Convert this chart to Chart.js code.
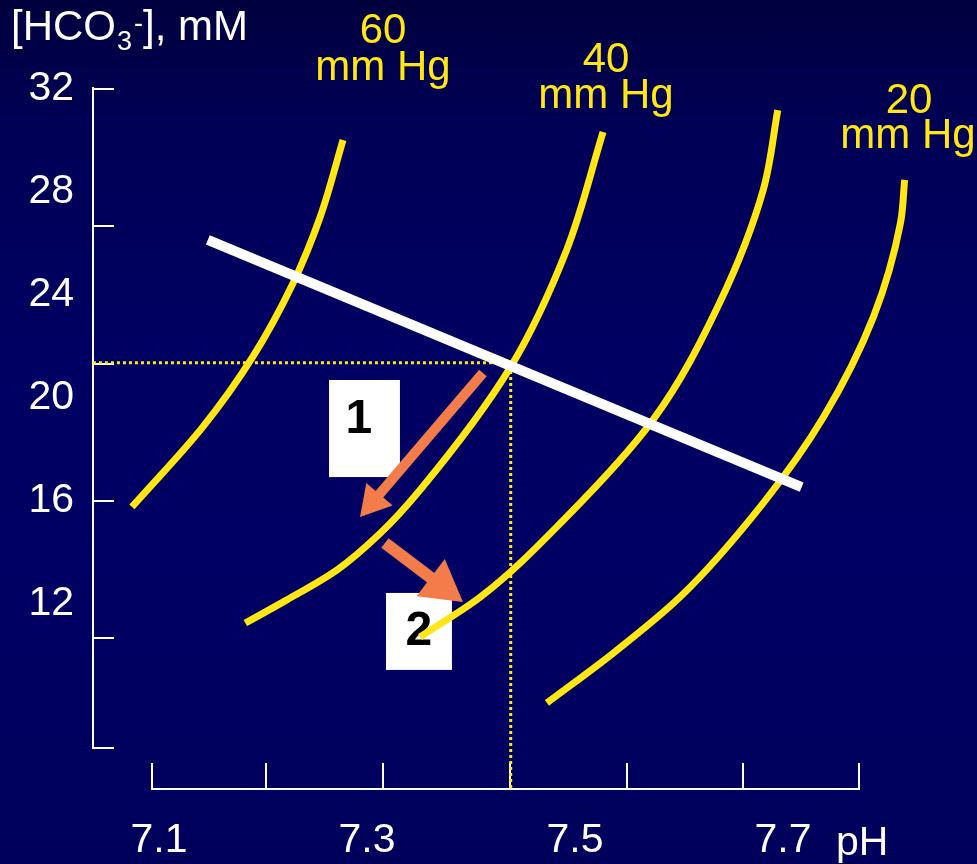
<!DOCTYPE html>
<html>
<head>
<meta charset="utf-8">
<title>pH - bicarbonate diagram</title>
<script src="https://cdn.jsdelivr.net/npm/chart.js@4.4.1/dist/chart.umd.min.js"></script>
<style>
  html, body { margin: 0; padding: 0; }
  body {
    width: 977px; height: 864px; overflow: hidden;
    background: linear-gradient(to bottom, #00003e 0%, #000056 15%, #000062 40%, #000064 65%, #00005c 100%);
  }
  canvas { display: block; }
</style>
</head>
<body>
<canvas id="myChart" width="977" height="864"></canvas>
<script>
// isobars (pH, [HCO3-] mM)
const ph60 = [7.074, 7.142, 7.190, 7.229, 7.255, 7.277];
const hco60 = [15.77, 18.87, 21.59, 24.47, 27.03, 30.02];

const ph40 = [7.183, 7.223, 7.271, 7.313, 7.351, 7.438, 7.492, 7.527];
const hco40 = [11.26, 12.16, 13.32, 14.76, 16.43, 21.2, 25.75, 30.33];

const ph30 = [7.351, 7.409, 7.489, 7.575, 7.639, 7.681, 7.695];
const hco30 = [10.72, 12.27, 15.26, 19.15, 23.69, 28.08, 31.18];

const ph20 = [7.473, 7.537, 7.601, 7.681, 7.739, 7.787, 7.813, 7.817];
const hco20 = [8.16, 10.1, 12.27, 15.92, 19.26, 23.15, 26.8, 28.47];

// buffer line
const bufferPH = [7.147, 7.718];
const bufferHCO = [26.14, 16.54];

// dotted guide to the 40 mm Hg point
const guidePH = [7.0365, 7.4382, 7.4382];
const guideHCO = [21.37, 21.37, 4.816];

// arrows: tail -> head
const arrow1PH = [7.4115, 7.3058];
const arrow1HCO = [20.97, 15.97];
const arrow2PH = [7.3173, 7.3716];
const arrow2HCO = [14.37, 12.71];

// axes
const phLabels = [7.1, 7.3, 7.5, 7.7];
const hcoLabels = [12, 16, 20, 24, 28, 32];
const phMarks = [7.0933, 7.2029, 7.3154, 7.4375, 7.55, 7.6615, 7.7731];
const hcoMarks = [32, 26.67, 21.33, 16, 10.67, 6.408];

const PH_MIN = 7.0933, PH_MAX = 7.7731;
const HCO_MIN = 6.408, HCO_MAX = 32.039;
const PH_AT_HCO_AXIS = 7.0365;
const HCO_AT_PH_AXIS = 4.816;

const YELLOW = '#ffe614';
const ORANGE = '#f47c4a';
const FONT = '"Liberation Sans", Arial, Helvetica, sans-serif';

Chart.defaults.font.family = FONT;

const pts = (xs, ys) => xs.map((v, i) => ({ x: v, y: ys[i] }));

// the isobars are steep, so interpolate them along the HCO3 axis
const isobar = (xs, ys) => ({
  data: pts(xs, ys),
  indexAxis: 'y',
  xAxisID: 'x',
  yAxisID: 'y',
  borderColor: YELLOW,
  borderWidth: 7,
  pointRadius: 0,
  cubicInterpolationMode: 'monotone',
  clip: false,
});

const shaft = (xs, ys, w) => ({
  data: pts(xs, ys),
  borderColor: ORANGE,
  borderWidth: w,
  borderCapStyle: 'butt',
  pointRadius: 0,
  clip: false,
});

const head = (xs, ys, r, rot) => ({
  data: [{ x: xs[1], y: ys[1] }],
  showLine: false,
  pointStyle: 'triangle',
  pointRadius: r,
  pointRotation: rot,
  pointBackgroundColor: ORANGE,
  pointBorderColor: ORANGE,
  pointBorderWidth: 0,
  clip: false,
});

const boxes = [
  { text: '1', ph: [7.2635, 7.3317], hco: [20.70, 16.93], tx: 7.2923, ty: 19.15 },
  { text: '2', ph: [7.3183, 7.3817], hco: [12.43, 9.44], tx: 7.35, ty: 10.91 },
];

const isobarLabels = [
  { text: '60', x: 383, y: 43 }, { text: 'mm Hg', x: 383, y: 80 },
  { text: '40', x: 606, y: 72 }, { text: 'mm Hg', x: 606, y: 108 },
  { text: '20', x: 909, y: 113 }, { text: 'mm Hg', x: 908, y: 148 },
];

// fixed range without user bounds, so lines running past the axes are not cut
const phRange = s => { s.min = PH_MIN; s.max = PH_MAX; };
const hcoRange = s => { s.min = HCO_MIN; s.max = HCO_MAX; };

const extras = {
  id: 'extras',
  beforeDatasetsDraw(chart) {
    const { ctx, scales: { x, y } } = chart;
    ctx.save();
    boxes.forEach(b => {
      const x0 = x.getPixelForValue(b.ph[0]), x1 = x.getPixelForValue(b.ph[1]);
      const y0 = y.getPixelForValue(b.hco[0]), y1 = y.getPixelForValue(b.hco[1]);
      ctx.fillStyle = '#ffffff';
      ctx.fillRect(x0, y0, x1 - x0, y1 - y0);
      ctx.fillStyle = '#000000';
      ctx.font = 'bold 48px ' + FONT;
      ctx.textAlign = 'center';
      ctx.textBaseline = 'middle';
      ctx.fillText(b.text, x.getPixelForValue(b.tx), y.getPixelForValue(b.ty));
    });
    ctx.restore();
  },
  afterDraw(chart) {
    const ctx = chart.ctx;
    ctx.save();
    ctx.textBaseline = 'alphabetic';
    ctx.textAlign = 'left';
    ctx.fillStyle = '#ffffff';
    ctx.font = '42px ' + FONT;
    ctx.fillText('[HCO', 11, 40);
    ctx.font = '27px ' + FONT;
    ctx.fillText('3', 117, 50);
    ctx.fillText('-', 134, 32);
    ctx.font = '42px ' + FONT;
    ctx.fillText('], mM', 143, 40);
    ctx.font = '41px ' + FONT;
    ctx.fillText('pH', 836, 855);

    ctx.fillStyle = YELLOW;
    ctx.textAlign = 'center';
    ctx.font = '42px ' + FONT;
    isobarLabels.forEach(l => ctx.fillText(l.text, l.x, l.y));
    ctx.restore();
  },
};

const markGrid = len => ({
  display: true,
  drawOnChartArea: false,
  drawTicks: true,
  tickLength: len,
  tickWidth: 2,
  lineWidth: 2,
  tickColor: '#ffffff',
  color: '#ffffff',
});

const config = {
  type: 'line',
  data: {
    datasets: [
      {
        data: pts(bufferPH, bufferHCO),
        borderColor: '#ffffff',
        borderWidth: 10,
        borderCapStyle: 'butt',
        pointRadius: 0,
        clip: false,
      },
      head(arrow1PH, arrow1HCO, 20, 220.5),
      shaft(arrow1PH, arrow1HCO, 10),
      head(arrow2PH, arrow2HCO, 27, 127.1),
      shaft(arrow2PH, arrow2HCO, 12),
      isobar(ph60, hco60),
      isobar(ph40, hco40),
      isobar(ph30, hco30),
      isobar(ph20, hco20),
      {
        data: pts(guidePH, guideHCO),
        borderColor: YELLOW,
        borderWidth: 3,
        borderDash: [3, 3],
        pointRadius: 0,
        tension: 0,
        clip: false,
      },
    ],
  },
  options: {
    responsive: false,
    animation: false,
    events: [],
    layout: { padding: { top: 88, right: 118, left: 0, bottom: 0 } },
    plugins: {
      legend: { display: false },
      tooltip: { enabled: false },
    },
    scales: {
      x: {
        type: 'linear',
        position: 'bottom',
        bounds: 'data',
        afterDataLimits: phRange,
        afterBuildTicks: s => { phRange(s); s.ticks = phLabels.map(v => ({ value: v })); },
        afterFit: s => { s.height = 116; s.paddingLeft = 0; s.paddingRight = 0; },
        grid: { display: false, drawTicks: false },
        border: { display: false },
        ticks: {
          color: '#ffffff',
          font: { size: 41 },
          padding: 68,
          maxRotation: 0,
          autoSkip: false,
          callback: v => v.toFixed(1),
        },
      },
      y: {
        type: 'linear',
        position: 'left',
        bounds: 'data',
        afterDataLimits: hcoRange,
        afterBuildTicks: s => { hcoRange(s); s.ticks = hcoLabels.map(v => ({ value: v })); },
        afterFit: s => { s.width = 152; s.paddingTop = 0; s.paddingBottom = 0; },
        grid: { display: false, drawTicks: false },
        border: { display: false },
        ticks: {
          color: '#ffffff',
          font: { size: 41 },
          padding: 78,
          autoSkip: false,
          callback: v => String(v),
        },
      },
      xt: {
        type: 'linear',
        axis: 'x',
        position: { y: HCO_AT_PH_AXIS },
        bounds: 'data',
        afterDataLimits: phRange,
        afterBuildTicks: s => { phRange(s); s.ticks = phMarks.map(v => ({ value: v })); },
        grid: markGrid(-27),
        border: { display: true, color: '#ffffff', width: 2 },
        ticks: { display: false },
      },
      yt: {
        type: 'linear',
        axis: 'y',
        position: { x: PH_AT_HCO_AXIS },
        bounds: 'data',
        afterDataLimits: hcoRange,
        afterBuildTicks: s => { hcoRange(s); s.ticks = hcoMarks.map(v => ({ value: v })); },
        grid: markGrid(-22),
        border: { display: true, color: '#ffffff', width: 2 },
        ticks: { display: false },
      },
    },
  },
  plugins: [extras],
};

const myChart = new Chart(document.getElementById('myChart'), config);
</script>
</body>
</html>
